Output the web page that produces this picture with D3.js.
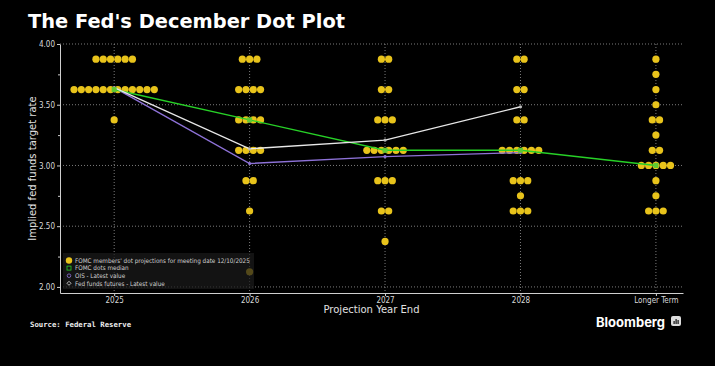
<!DOCTYPE html>
<html>
<head>
<meta charset="utf-8">
<title>The Fed's December Dot Plot</title>
<style>
    html, body {
        margin: 0px;
        padding: 0px;
        background-color: #000;
        font-family: "DejaVu Sans", sans-serif;
    }
    svg text { fill: #e6e6e6; }
    .title { font-size: 19.4px; font-weight: bold; fill: #fff; }
    .axis text { fill: #d9d9d9; font-size: 8px; font-family: "DejaVu Sans Condensed", "DejaVu Sans", sans-serif; }
    .axis .domain, .axis line { stroke: #cfcfcf; }
    .grid line { stroke: #9a9a9a; stroke-dasharray: 1,2; stroke-width: 0.8; }
    .legend text { font-size: 6.3px; fill: #d0d0d0; font-family: "DejaVu Sans Condensed", "DejaVu Sans", sans-serif; }
</style>
<script src="https://cdn.jsdelivr.net/npm/d3@7"></script>
</head>
<body>
<div id="main"></div>
<script>
// categories on the x axis
var categories = ["2025", "2026", "2027", "2028", "Longer Term"];

// dot rate levels (midpoints of 25bp ranges) and number of participants per level
var dotRates = [3.875, 3.75, 3.625, 3.5, 3.375, 3.25, 3.125, 3.0, 2.875, 2.75, 2.625, 2.5, 2.375, 2.25, 2.125];
var counts2025   = [6, 0, 12, 0, 1, 0, 0, 0, 0, 0, 0, 0, 0, 0, 0];
var counts2026   = [3, 0, 4, 0, 4, 0, 4, 0, 2, 0, 1, 0, 0, 0, 1];
var counts2027   = [2, 0, 2, 0, 3, 0, 6, 0, 3, 0, 2, 0, 1, 0, 0];
var counts2028   = [2, 0, 2, 0, 2, 0, 6, 0, 3, 1, 3, 0, 0, 0, 0];
var countsLonger = [1, 1, 1, 1, 2, 1, 2, 5, 1, 1, 3, 0, 0, 0, 0];
var dotCounts = [counts2025, counts2026, counts2027, counts2028, countsLonger];

// lines
var medians = [3.625, 3.375, 3.125, 3.125, 3.0];
var oisValues = [3.64, 3.016, 3.073, 3.106];
var futuresValues = [3.64, 3.137, 3.209, 3.483];

var yTicks = [2.0, 2.5, 3.0, 3.5, 4.0];
var yMinorTicks = [2.25, 2.75, 3.25, 3.75];

var legendLabels = [
    "FOMC members' dot projections for meeting date 12/10/2025",
    "FOMC dots median",
    "OIS - Latest value",
    "Fed funds futures - Latest value"
];

var width = 715, height = 366;
var plotLeft = 60, plotRight = 683, plotTop = 44, plotBottom = 293;
var dotR = 3.6, dotStep = 7.3;
var dotColor = "#e8c31b", medianColor = "#27d127", oisColor = "#8e72d8", futColor = "#e8e8e8";

var svg = d3.select("#main").append("svg")
    .attr("width", width)
    .attr("height", height);

var x = d3.scaleLinear().domain([-0.4, 4.2]).range([plotLeft, plotRight]);
var y = d3.scaleLinear().domain([1.95, 4.0]).range([plotBottom, plotTop]);

svg.append("text")
    .attr("class", "title")
    .attr("x", 28)
    .attr("y", 28)
    .text("The Fed's December Dot Plot");

// grid
var grid = svg.append("g").attr("class", "grid");
grid.selectAll(".hg").data(yTicks).enter().append("line")
    .attr("x1", plotLeft).attr("x2", plotRight)
    .attr("y1", function(d) { return y(d); })
    .attr("y2", function(d) { return y(d); });
grid.selectAll(".vg").data(categories).enter().append("line")
    .attr("x1", function(d, i) { return x(i); })
    .attr("x2", function(d, i) { return x(i); })
    .attr("y1", plotTop).attr("y2", plotBottom);

// axes
svg.append("g")
    .attr("class", "axis")
    .attr("transform", "translate(" + plotLeft + ",0)")
    .call(d3.axisLeft(y).tickValues(yTicks).tickFormat(d3.format(".2f")).tickSize(3).tickSizeOuter(0).tickPadding(2));
svg.append("g")
    .attr("class", "axis minor")
    .attr("transform", "translate(" + plotLeft + ",0)")
    .call(d3.axisLeft(y).tickValues(yMinorTicks).tickFormat("").tickSize(2))
    .select(".domain").remove();

svg.append("g")
    .attr("class", "axis")
    .attr("transform", "translate(0," + plotBottom + ")")
    .call(d3.axisBottom(x).tickValues(d3.range(categories.length))
        .tickFormat(function(d) { return categories[d]; }).tickSize(3).tickSizeOuter(0).tickPadding(1));

svg.append("text")
    .attr("transform", "translate(36," + ((plotTop + plotBottom) / 2) + ") rotate(-90)")
    .style("text-anchor", "middle")
    .style("font-size", "10px")
    .style("fill", "#e0e0e0")
    .text("Implied fed funds target rate");

svg.append("text")
    .attr("x", (plotLeft + plotRight) / 2)
    .attr("y", 313)
    .style("text-anchor", "middle")
    .style("font-size", "10px")
    .style("fill", "#e0e0e0")
    .text("Projection Year End");

// dots
var dots = [];
dotCounts.forEach(function(counts, i) {
    counts.forEach(function(n, j) {
        for (var k = 0; k < n; k++) {
            dots.push({ cat: i, rate: dotRates[j], off: (k - (n - 1) / 2) * dotStep });
        }
    });
});
svg.append("g").selectAll("circle").data(dots).enter().append("circle")
    .attr("cx", function(d) { return x(d.cat) + d.off; })
    .attr("cy", function(d) { return y(d.rate); })
    .attr("r", dotR)
    .attr("fill", dotColor);

// lines
var line = d3.line()
    .x(function(d, i) { return x(i); })
    .y(function(d) { return y(d); });

svg.append("path").datum(oisValues)
    .attr("d", line).attr("fill", "none").attr("stroke", oisColor).attr("stroke-width", 1.4);
svg.append("path").datum(medians)
    .attr("d", line).attr("fill", "none").attr("stroke", medianColor).attr("stroke-width", 1.4);
svg.append("path").datum(futuresValues)
    .attr("d", line).attr("fill", "none").attr("stroke", futColor).attr("stroke-width", 1.4);

svg.append("g").selectAll("circle").data(oisValues).enter().append("circle")
    .attr("cx", function(d, i) { return x(i); })
    .attr("cy", function(d) { return y(d); })
    .attr("r", 1.6).attr("fill", oisColor);
svg.append("g").selectAll("circle").data(futuresValues).enter().append("circle")
    .attr("cx", function(d, i) { return x(i); })
    .attr("cy", function(d) { return y(d); })
    .attr("r", 1.6).attr("fill", "#bdbdbd");
svg.append("g").selectAll("rect").data(medians).enter().append("rect")
    .attr("x", function(d, i) { return x(i) - 2.5; })
    .attr("y", function(d) { return y(d) - 2.5; })
    .attr("width", 5).attr("height", 5)
    .attr("fill", "#5fc832");

// legend
var legend = svg.append("g").attr("class", "legend").attr("transform", "translate(63,253)");
legend.append("rect")
    .attr("width", 191).attr("height", 36)
    .attr("fill", "#1b1b1b").attr("opacity", 0.72);
var rows = legend.selectAll(".row").data(legendLabels).enter().append("g")
    .attr("transform", function(d, i) { return "translate(6," + (7.5 + i * 7.6) + ")"; });
rows.append("text").attr("x", 6).attr("y", 2.2).text(function(d) { return d; });
legend.select("g").append("circle").attr("r", 3.2).attr("fill", dotColor);
d3.select(rows.nodes()[1]).append("rect")
    .attr("x", -2).attr("y", -2).attr("width", 4).attr("height", 4)
    .attr("fill", "none").attr("stroke", medianColor).attr("stroke-width", 0.8);
d3.select(rows.nodes()[2]).append("circle")
    .attr("r", 1.8).attr("fill", "none").attr("stroke", oisColor).attr("stroke-width", 0.8);
d3.select(rows.nodes()[3]).append("path")
    .attr("d", "M0,-2L2,0L0,2L-2,0Z")
    .attr("fill", "none").attr("stroke", "#e0e0e0").attr("stroke-width", 0.8);

// footer
svg.append("text")
    .attr("x", 30).attr("y", 327)
    .style("font-size", "7.3px").style("font-weight", "bold").style("fill", "#eee")
    .style("font-family", "'DejaVu Sans Mono', monospace")
    .text("Source: Federal Reserve");

svg.append("text")
    .attr("x", 596).attr("y", 327)
    .style("font-size", "13px").style("font-weight", "bold").style("fill", "#fff")
    .style("font-family", "Inter, 'Open Sans', sans-serif")
    .text("Bloomberg");
var logo = svg.append("g").attr("transform", "translate(671,316)");
logo.append("rect").attr("width", 10).attr("height", 10).attr("rx", 2).attr("fill", "#ddd");
logo.selectAll(".b").data([3, 5, 4]).enter().append("rect")
    .attr("x", function(d, i) { return 2.5 + i * 2; })
    .attr("y", function(d) { return 8 - d; })
    .attr("width", 1.2)
    .attr("height", function(d) { return d; })
    .attr("fill", "#111");
</script>
</body>
</html>
